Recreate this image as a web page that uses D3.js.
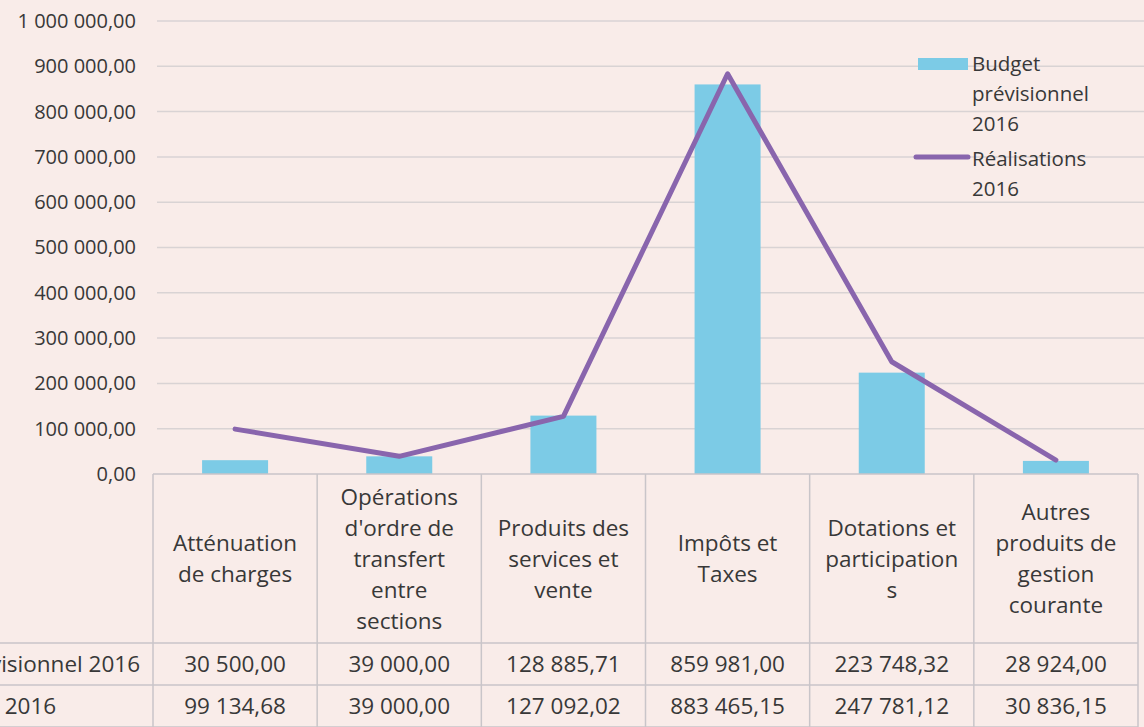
<!DOCTYPE html>
<html>
<head>
<meta charset="utf-8">
<script src="https://cdn.jsdelivr.net/npm/d3@7"></script>
<style>
  body { margin: 0; background: #f9ece9; }
  svg { display: block; font-family: "Open Sans", Lato, sans-serif; }
</style>
</head>
<body>
<div id="chart"></div>
<script>
// categories + their wrapped header lines (as printed in the data table)
var categories = ["Atténuation de charges", "Opérations d'ordre de transfert entre sections", "Produits des services et vente", "Impôts et Taxes", "Dotations et participations", "Autres produits de gestion courante"]
var categoryLines = [
  ["Atténuation", "de charges"],
  ["Opérations", "d'ordre de", "transfert", "entre", "sections"],
  ["Produits des", "services et", "vente"],
  ["Impôts et", "Taxes"],
  ["Dotations et", "participation", "s"],
  ["Autres", "produits de", "gestion", "courante"]
]
var budget = [30500.00, 39000.00, 128885.71, 859981.00, 223748.32, 28924.00]
var realisations = [99134.68, 39000.00, 127092.02, 883465.15, 247781.12, 30836.15]
var seriesNames = ["Budget prévisionnel 2016", "Réalisations 2016"]
var legendLines = [["Budget", "prévisionnel", "2016"], ["Réalisations", "2016"]]
var yTicks = [0, 100000, 200000, 300000, 400000, 500000, 600000, 700000, 800000, 900000, 1000000]

var W = 1144, H = 727
var svg = d3.select("#chart").append("svg").attr("width", W).attr("height", H)
svg.append("rect").attr("width", W).attr("height", H).attr("fill", "#f9ece9")

var fr = d3.formatLocale({decimal: ",", thousands: " ", grouping: [3], currency: ["", " €"]})
var fmt = fr.format(",.2f")

var x = d3.scaleBand().domain(categories).range([153, 1138]).padding(0)
var y = d3.scaleLinear().domain([0, 1000000]).range([474, 21])

// gridlines
svg.append("g").selectAll("line").data(yTicks.slice(1)).enter().append("line")
  .attr("x1", 157).attr("x2", 1144)
  .attr("y1", function(d) { return y(d) }).attr("y2", function(d) { return y(d) })
  .attr("stroke", "#d9d3d4").attr("stroke-width", 1.5)

// y axis labels
var yAxis = svg.append("g").attr("transform", "translate(153,0)")
  .call(d3.axisLeft(y).tickValues(yTicks).tickFormat(fmt).tickSize(0).tickPadding(17))
yAxis.select(".domain").remove()
yAxis.selectAll("text").attr("font-size", 20).attr("fill", "#383838").attr("font-family", "'Open Sans', sans-serif")

// bars
var bw = 66
svg.append("g").selectAll("rect").data(budget).enter().append("rect")
  .attr("x", function(d, i) { return x(categories[i]) + x.bandwidth() / 2 - bw / 2 })
  .attr("y", function(d) { return y(d) })
  .attr("width", bw)
  .attr("height", function(d) { return y(0) - y(d) })
  .attr("fill", "#7ccbe6")

// line
var line = d3.line()
  .x(function(d, i) { return x(categories[i]) + x.bandwidth() / 2 })
  .y(function(d) { return y(d) })
svg.append("path").datum(realisations).attr("d", line)
  .attr("fill", "none").attr("stroke", "#8965ad").attr("stroke-width", 5)
  .attr("stroke-linejoin", "round").attr("stroke-linecap", "round")

// legend
var lg = svg.append("g").attr("font-size", 20.5).attr("fill", "#383838")
lg.append("rect").attr("x", 918).attr("y", 58).attr("width", 50).attr("height", 12).attr("fill", "#7ccbe6")
lg.append("line").attr("x1", 916).attr("x2", 968).attr("y1", 157).attr("y2", 157)
  .attr("stroke", "#8965ad").attr("stroke-width", 5).attr("stroke-linecap", "round")
var legY = [71, 166]
legendLines.forEach(function(lines, k) {
  var t = lg.append("text").attr("x", 972).attr("y", legY[k])
  lines.forEach(function(s, j) {
    t.append("tspan").attr("x", 972).attr("dy", j === 0 ? 0 : 30).text(s)
  })
})

// data table
var rows = [474, 643, 685, 727]
var tb = svg.append("g")
var border = "#c9c5c9"
tb.append("line").attr("x1", 153).attr("x2", 1138).attr("y1", rows[0]).attr("y2", rows[0]).attr("stroke", border).attr("stroke-width", 1.5)
tb.selectAll("line.h").data(rows.slice(1)).enter().append("line").attr("class", "h")
  .attr("x1", 0).attr("x2", 1138)
  .attr("y1", function(d) { return d }).attr("y2", function(d) { return d })
  .attr("stroke", border).attr("stroke-width", 1.5)
var vx = categories.map(function(c) { return x(c) }).concat([x.range()[1]])
tb.selectAll("line.v").data(vx).enter().append("line").attr("class", "v")
  .attr("x1", function(d) { return d }).attr("x2", function(d) { return d })
  .attr("y1", rows[0]).attr("y2", H)
  .attr("stroke", border).attr("stroke-width", 1.5)

var tf = tb.append("g").attr("font-size", 22.5).attr("fill", "#383838").attr("text-anchor", "middle")
categoryLines.forEach(function(lines, i) {
  var cx = x(categories[i]) + x.bandwidth() / 2
  var lh = 31
  var y0 = (rows[0] + rows[1]) / 2 - (lines.length - 1) * lh / 2 + 8
  var t = tf.append("text").attr("x", cx).attr("y", y0)
  lines.forEach(function(s, j) {
    t.append("tspan").attr("x", cx).attr("dy", j === 0 ? 0 : lh).text(s)
  })
})
;[budget, realisations].forEach(function(vals, r) {
  var cy = (rows[r + 1] + rows[r + 2]) / 2 + 8
  tf.selectAll(null).data(vals).enter().append("text")
    .attr("x", function(d, i) { return x(categories[i]) + x.bandwidth() / 2 })
    .attr("y", cy).text(function(d) { return fmt(d) })
})

// row labels (table's label column runs off the left edge)
var rl = tb.append("g").attr("font-size", 22.5).attr("fill", "#383838")
var probe = rl.append("text").text(seriesNames[0])
var startX = 140 - probe.node().getComputedTextLength()
probe.remove()
seriesNames.forEach(function(s, r) {
  rl.append("text").attr("x", startX).attr("y", (rows[r + 1] + rows[r + 2]) / 2 + 8).text(s)
})
</script>
</body>
</html>
